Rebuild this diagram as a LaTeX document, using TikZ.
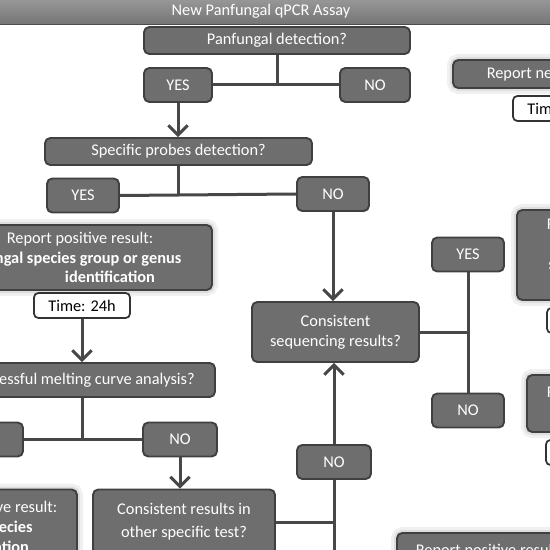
\documentclass[tikz,border=0pt]{standalone}
\usepackage{fontspec}
\setmainfont{Carlito}
\usetikzlibrary{arrows.meta}
\newlength{\pxu}\setlength{\pxu}{0.02cm}

\begin{document}
\begin{tikzpicture}[x=0.02cm,y=-0.02cm,
  box/.style={draw=black!75,fill=black!57,rounded corners=3pt,line width=1.1pt,text=white,align=center,inner sep=0pt,font=\fontsize{9.3}{11.2}\selectfont},
  glow/.style={box,preaction={draw=black!6,line width=12\pxu},preaction={draw=black!13,line width=6\pxu}},
  timebox/.style={draw=black!80,fill=white,rounded corners=2.5pt,line width=1pt,inner sep=0pt,minimum width=96\pxu,minimum height=25\pxu,font=\fontsize{9.3}{11.2}\selectfont},
  link/.style={draw=black!72,line width=3\pxu},
  arrow/.style={link,-{Straight Barb[length=5.5pt,width=11pt]}}]
\path[use as bounding box,clip] (0,0) rectangle (550,550);
\node (title)[draw=black!70,top color=black!40,bottom color=black!54,minimum width=620\pxu,minimum height=23\pxu,text=white,font=\fontsize{9.3}{11.2}\selectfont] at (261,11) {New Panfungal qPCR Assay};
\node (pan)[box,minimum width=266\pxu,minimum height=27\pxu] at (277,40.5) {Panfungal detection?};
\node (spec)[box,minimum width=267\pxu,minimum height=27\pxu] at (178.5,151.5) {Specific probes detection?};
\node (rep1)[glow,minimum width=264\pxu,minimum height=65\pxu] at (80,257.5) {Report positive result:\\\textbf{Fungal species group or genus}\\\hspace*{60\pxu}\textbf{identification}};
\node (time1)[timebox] at (82,305.5) {Time: 24h};
\node (melt)[box,minimum width=266\pxu,minimum height=34\pxu] at (82,380) {Successful melting curve analysis?};
\node (cons)[box,minimum width=182\pxu,minimum height=65\pxu,font=\fontsize{9.3}{13}\selectfont] at (184,522) {Consistent results in\\other specific test?};
\node (rep2)[glow,minimum width=186\pxu,minimum height=75\pxu] at (-16,527) {Report positive result:\\\textbf{Fungal species}\\\textbf{identification}};
\node (seq)[box,minimum width=167\pxu,minimum height=60\pxu] at (335.5,332) {Consistent\\sequencing results?};
\node (repneg)[glow,minimum width=214\pxu,minimum height=28\pxu] at (560,74) {Report negative result};
\node (time2)[timebox] at (561,108.5) {Time: 24h};
\node (rep3)[glow,minimum width=206\pxu,minimum height=90\pxu] at (620,255) {Report positive result:\\\textbf{Fungal}\\\textbf{species identification}\\\textbf{(sequencing)}};
\node (time3)[timebox] at (595,320.5) {Time: 72h};
\node (rep4)[glow,minimum width=186\pxu,minimum height=57\pxu] at (620,403.5) {Report positive result:\\\textbf{Fungal detection}};
\node (time4)[timebox] at (594,452.5) {Time: 72h};
\node (rep5)[glow,minimum width=184\pxu,minimum height=74\pxu] at (489,570) {Report positive result:\\\textbf{Fungal species}\\\textbf{identification}};
\foreach \name/\x/\y/\w/\lbl in {yes1/178/85/68/YES,no1/375/85/70/NO,yes2/83/195.5/72/YES,no2/333/194/72/NO,yes3/-13/439.5/72/YES,no3/180/439.5/74/NO,no4/334/462/74/NO,yes5/468/254.5/72/YES,no5/468/410.5/72/NO}
  \node (\name)[box,minimum width=\w\pxu,minimum height=34\pxu] at (\x,\y) {\lbl};
\coordinate (bot) at (334,560);
\foreach \up/\a/\b in {pan/yes1/no1,spec/yes2/no2,melt/yes3/no3}{
  \draw[link] (\up.south) -- (\up.south |- \a.east);
  \draw[link] (\a.east) -- (\b.west);
}
\draw[arrow] (yes1.south) -- (yes1.south |- spec.north);
\draw[arrow] (time1.south) -- (melt.north);
\draw[arrow] (no3.south) -- (no3.south |- cons.north);
\draw[arrow] (no2.south) -- (no2.south |- seq.north);
\draw[arrow] (no4.north) -- (no4.north |- seq.south);
\draw[link] (bot) -- (no4.south);
\draw[link] (cons.east) -- (cons.east -| bot);
\draw[link] (seq.east) -- (seq.east -| yes5.south);
\draw[link] (yes5.south) -- (no5.north);
\end{tikzpicture}
\end{document}
